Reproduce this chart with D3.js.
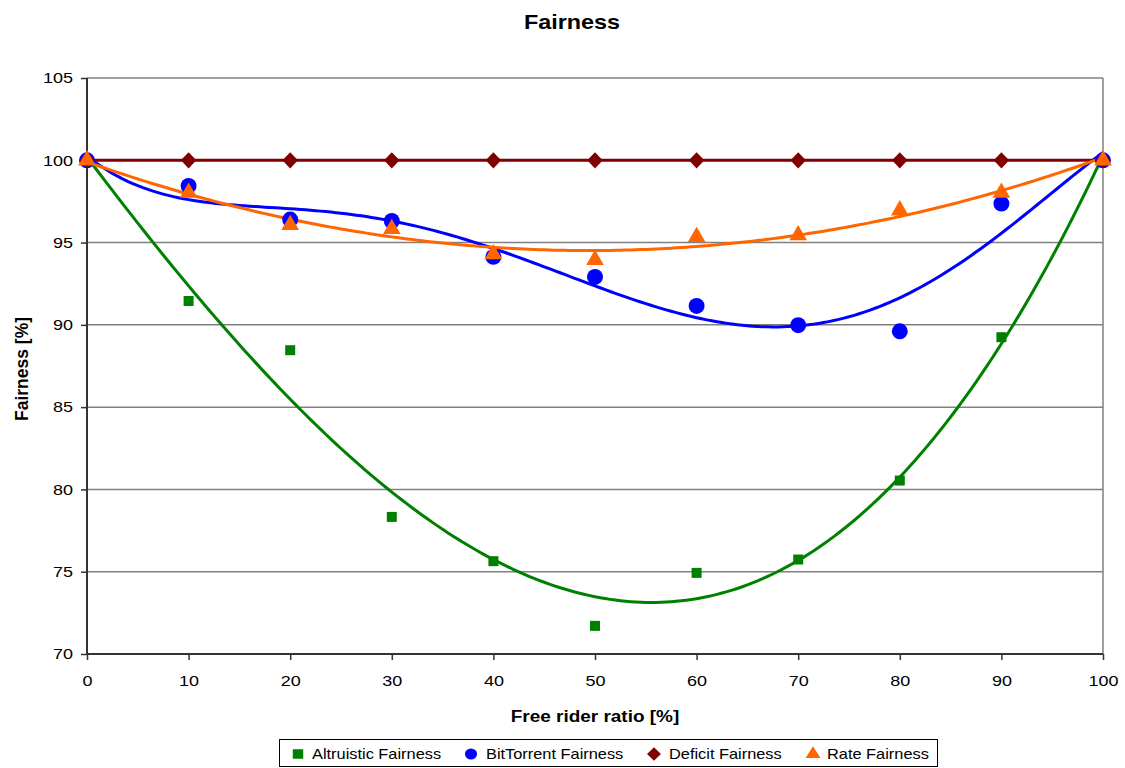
<!DOCTYPE html>
<html><head><meta charset="utf-8">
<script src="https://cdn.jsdelivr.net/npm/d3@7"></script>
<style>body{margin:0;background:#fff}svg{display:block;font-family:"Liberation Sans",Arial,sans-serif}</style>
</head><body><svg id="c" width="1125" height="768"></svg>
<script>
const xValues = [0,10,20,30,40,50,60,70,80,90,100];
const altruistic = [100,91.45,88.46,78.33,75.64,71.71,74.93,75.74,80.54,89.25,100];
const bittorrent = [100,98.44,96.4,96.31,94.13,92.91,91.15,89.98,89.61,97.37,100];
const deficit = [100,100,100,100,100,100,100,100,100,100,100];
const rate = [100,98.03,96.07,95.83,94.3,93.95,95.34,95.45,96.96,98.03,100];
const yTicks = [70,75,80,85,90,95,100,105];
const xTicks = [0,10,20,30,40,50,60,70,80,90,100];
const seriesNames = ["Altruistic Fairness","BitTorrent Fairness","Deficit Fairness","Rate Fairness"];
const seriesColors = ["#008000","#0000FF","#800000","#FF6600"];
const trendOrders = [3,5,null,2];

const K = 1.2; // horizontal text stretch
const svg = d3.select("#c");
const L=87,R=1103,T=78,B=654;
const x = d3.scaleLinear().domain([0,100]).range([L,R]);
const y = d3.scaleLinear().domain([70,105]).range([B,T]);

function stretchText(sel, k){
  sel.each(function(){
    const t=d3.select(this);
    const xv=+(t.attr("x")||0);
    t.attr("x",xv/k).attr("transform",`scale(${k},1)`);
  });
}

// gridlines
svg.append("g").selectAll("line").data(yTicks.filter(v=>v>70)).join("line")
  .attr("x1",L).attr("x2",R).attr("y1",d=>y(d)).attr("y2",d=>y(d))
  .attr("stroke","#808080").attr("stroke-width",1.5);
svg.append("line").attr("x1",R).attr("x2",R).attr("y1",T).attr("y2",B).attr("stroke","#808080").attr("stroke-width",1.5);

const yAxis = svg.append("g").attr("transform",`translate(${L},0)`)
  .call(d3.axisLeft(y).tickValues(yTicks).tickSize(6).tickPadding(8));
const xAxis = svg.append("g").attr("transform",`translate(0,${B})`)
  .call(d3.axisBottom(x).tickValues(xTicks).tickSize(6).tickPadding(15));
[yAxis,xAxis].forEach(a=>{
  a.select(".domain").attr("stroke","#333").attr("stroke-width",2);
  a.selectAll(".tick line").attr("stroke","#333").attr("stroke-width",1.5);
  a.selectAll("text").attr("font-size",15).attr("fill","#000").attr("font-family","Liberation Sans, Arial, sans-serif");
  stretchText(a.selectAll("text"),K);
});
xAxis.select(".domain").attr("d",`M${L},0H${R}`);
yAxis.select(".domain").attr("d",`M0,${B}V${T}`);

// least-squares polynomial trendline (as in the original chart)
function polyfit(xs, ys, order){
  const n=order+1;
  const A=Array.from({length:n},()=>new Array(n+1).fill(0));
  xs.forEach((xv,i)=>{
    const t=xv/100;
    for(let r=0;r<n;r++){
      for(let c=0;c<n;c++) A[r][c]+=Math.pow(t,r+c);
      A[r][n]+=ys[i]*Math.pow(t,r);
    }
  });
  for(let i=0;i<n;i++){
    let p=i;for(let k=i+1;k<n;k++) if(Math.abs(A[k][i])>Math.abs(A[p][i])) p=k;
    [A[i],A[p]]=[A[p],A[i]];
    for(let k=i+1;k<n;k++){const f=A[k][i]/A[i][i];for(let c=i;c<=n;c++) A[k][c]-=f*A[i][c];}
  }
  const co=new Array(n).fill(0);
  for(let i=n-1;i>=0;i--){let s=A[i][n];for(let c=i+1;c<n;c++) s-=A[i][c]*co[c];co[i]=s/A[i][i];}
  return xv=>{const t=xv/100;let s=0;for(let i=n-1;i>=0;i--) s=s*t+co[i];return s;};
}

const allSeries=[altruistic,bittorrent,deficit,rate];
const line=d3.line().x(d=>x(d[0])).y(d=>y(d[1]));
const fine=d3.range(0,100.01,0.5);
svg.append("clipPath").attr("id","pc").append("rect").attr("x",L-10).attr("y",T-10).attr("width",R-L+20).attr("height",B-T+10);

allSeries.forEach((s,i)=>{
  let pts;
  if(trendOrders[i]){const f=polyfit(xValues,s,trendOrders[i]);pts=fine.map(v=>[v,f(v)]);}
  else pts=xValues.map((v,j)=>[v,s[j]]);
  svg.append("path").datum(pts).attr("d",line).attr("fill","none")
    .attr("stroke",seriesColors[i]).attr("stroke-width",3).attr("clip-path","url(#pc)");
});

const diamond = {draw(ctx,size){const s=Math.sqrt(size)/Math.SQRT2;ctx.moveTo(0,-s*1.05);ctx.lineTo(s,0);ctx.lineTo(0,s*1.05);ctx.lineTo(-s,0);ctx.closePath();}};
const symbols=[d3.symbolSquare,d3.symbolCircle,diamond,d3.symbolTriangle];
const sizes=[100,200,120,135];
allSeries.forEach((s,i)=>{
  svg.append("g").selectAll("path").data(xValues.map((v,j)=>[v,s[j]])).join("path")
    .attr("transform",d=>`translate(${x(d[0])},${y(d[1])})`)
    .attr("d",d3.symbol(symbols[i],sizes[i])).attr("fill",seriesColors[i]);
});

// titles
const t1=svg.append("text").attr("x",572).attr("y",29).attr("text-anchor","middle").attr("font-size",19.5).attr("font-weight","bold").text("Fairness");
const t2=svg.append("text").attr("x",595).attr("y",722).attr("text-anchor","middle").attr("font-size",15.8).attr("font-weight","bold").text("Free rider ratio [%]");
stretchText(t1,K);stretchText(t2,K);
svg.append("text").attr("transform","translate(28,369) rotate(-90)").attr("text-anchor","middle").attr("font-size",17.5).attr("font-weight","bold").text("Fairness [%]");

// legend
const lg=svg.append("g");
lg.append("rect").attr("x",279.5).attr("y",739.5).attr("width",658).attr("height",27).attr("fill","#fff").attr("stroke","#000").attr("stroke-width",1);
const lx=[298,471,654,813];
const ltx=[312,486,669,827];
const lsizes=[90,95,80,80];
seriesNames.forEach((n,i)=>{
  lg.append("path").attr("transform",`translate(${lx[i]},754) scale(1.1,1)`).attr("d",d3.symbol(symbols[i],lsizes[i])).attr("fill",seriesColors[i]);
  const tx=lg.append("text").attr("x",ltx[i]).attr("y",759).attr("font-size",14).text(n);
  stretchText(tx,1.17);
});
</script></body></html>
